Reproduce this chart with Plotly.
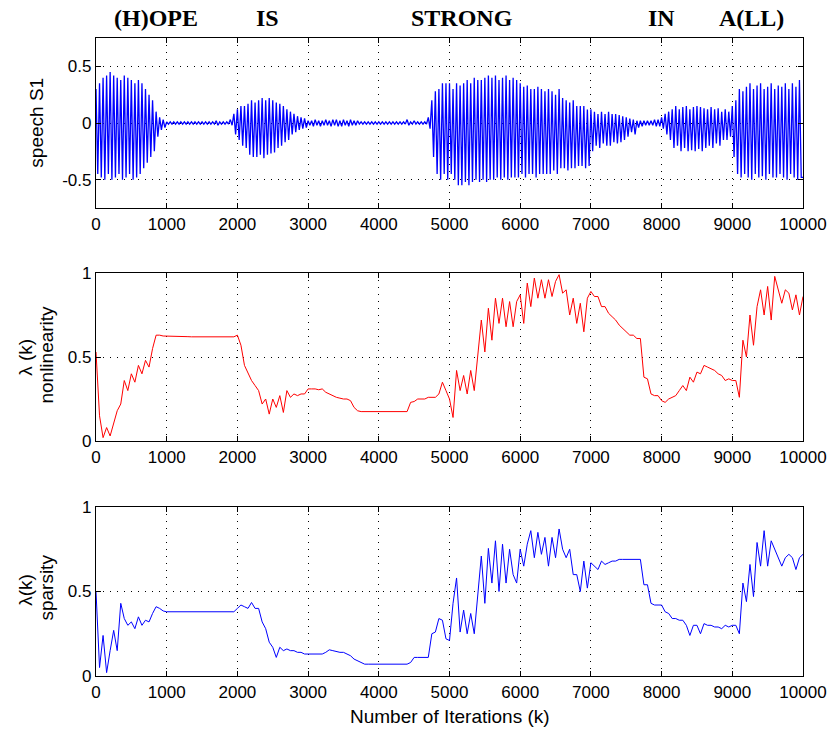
import plotly.graph_objects as go

# ---------------- data ----------------
# speech S1: upper / lower envelope peaks read every 50 iterations (0..9950)
speech_hi = [
    0.30, 0.35, 0.40, 0.42, 0.45, 0.42, 0.40, 0.38, 0.42, 0.40, 0.38, 0.35, 0.38, 0.35, 0.30, 0.25, 0.20, 0.10, 0.05, 0.03,
    0.01, 0.01, 0.01, 0.01, 0.01, 0.01, 0.01, 0.01, 0.01, 0.01, 0.01, 0.01, 0.01, 0.01, 0.02, 0.01, 0.01, 0.01, 0.03, 0.08,
    0.12, 0.15, 0.15, 0.17, 0.20, 0.18, 0.20, 0.22, 0.20, 0.22, 0.20, 0.18, 0.17, 0.15, 0.12, 0.10, 0.08, 0.06, 0.05, 0.04,
    0.02, 0.02, 0.03, 0.02, 0.02, 0.03, 0.02, 0.03, 0.03, 0.02, 0.03, 0.02, 0.03, 0.02, 0.02, 0.01, 0.01, 0.01, 0.01, 0.01,
    0.01, 0.01, 0.01, 0.01, 0.01, 0.01, 0.01, 0.01, 0.03, 0.01, 0.02, 0.01, 0.01, 0.01, 0.05, 0.20, 0.28, 0.30, 0.35, 0.35,
    0.35, 0.30, 0.35, 0.33, 0.35, 0.38, 0.35, 0.40, 0.38, 0.38, 0.40, 0.42, 0.40, 0.42, 0.38, 0.40, 0.42, 0.38, 0.40, 0.38,
    0.35, 0.32, 0.33, 0.30, 0.30, 0.32, 0.30, 0.28, 0.30, 0.28, 0.25, 0.30, 0.22, 0.20, 0.18, 0.20, 0.15, 0.15, 0.15, 0.12,
    0.12, 0.10, 0.08, 0.10, 0.08, 0.10, 0.08, 0.08, 0.07, 0.06, 0.05, 0.04, 0.03, 0.02, 0.02, 0.02, 0.02, 0.02, 0.03, 0.03,
    0.05, 0.08, 0.10, 0.12, 0.15, 0.12, 0.14, 0.15, 0.12, 0.14, 0.15, 0.14, 0.13, 0.12, 0.14, 0.12, 0.13, 0.10, 0.12, 0.10,
    0.15, 0.20, 0.30, 0.28, 0.32, 0.35, 0.30, 0.33, 0.35, 0.30, 0.32, 0.35, 0.30, 0.33, 0.32, 0.35, 0.30, 0.35, 0.32, 0.38,
]
speech_lo = [
    -0.45, -0.48, -0.50, -0.45, -0.50, -0.48, -0.45, -0.50, -0.48, -0.45, -0.50, -0.48, -0.45, -0.40, -0.35, -0.30, -0.25, -0.12, -0.06, -0.04,
    -0.01, -0.01, -0.01, -0.01, -0.01, -0.01, -0.01, -0.01, -0.01, -0.01, -0.01, -0.01, -0.01, -0.01, -0.02, -0.01, -0.01, -0.01, -0.02, -0.10,
    -0.15, -0.20, -0.22, -0.28, -0.30, -0.30, -0.28, -0.31, -0.28, -0.27, -0.26, -0.22, -0.20, -0.17, -0.15, -0.10, -0.08, -0.06, -0.05, -0.04,
    -0.02, -0.03, -0.02, -0.03, -0.02, -0.02, -0.03, -0.02, -0.03, -0.03, -0.02, -0.03, -0.02, -0.02, -0.01, -0.01, -0.01, -0.01, -0.01, -0.01,
    -0.01, -0.01, -0.01, -0.01, -0.01, -0.01, -0.01, -0.01, -0.02, -0.01, -0.01, -0.01, -0.01, -0.01, -0.05, -0.30, -0.45, -0.50, -0.45, -0.50,
    -0.45, -0.50, -0.55, -0.55, -0.52, -0.55, -0.52, -0.50, -0.52, -0.50, -0.52, -0.50, -0.50, -0.48, -0.50, -0.48, -0.50, -0.48, -0.48, -0.48,
    -0.45, -0.48, -0.45, -0.45, -0.48, -0.45, -0.45, -0.45, -0.45, -0.42, -0.45, -0.40, -0.40, -0.42, -0.40, -0.40, -0.38, -0.38, -0.40, -0.38,
    -0.25, -0.20, -0.22, -0.18, -0.20, -0.20, -0.17, -0.18, -0.17, -0.15, -0.12, -0.08, -0.10, -0.04, -0.03, -0.02, -0.02, -0.02, -0.03, -0.03,
    -0.05, -0.10, -0.15, -0.22, -0.20, -0.25, -0.22, -0.25, -0.24, -0.25, -0.23, -0.25, -0.22, -0.20, -0.22, -0.18, -0.20, -0.15, -0.15, -0.12,
    -0.30, -0.45, -0.48, -0.45, -0.48, -0.50, -0.45, -0.48, -0.47, -0.50, -0.45, -0.48, -0.48, -0.45, -0.48, -0.50, -0.45, -0.48, -0.50, -0.48,
]

# lambda(k) nonlinearity, read every 50 iterations (0..10000)
lam_nonlin = [
    0.53, 0.15, 0.02, 0.08, 0.03, 0.10, 0.18, 0.22, 0.36, 0.30, 0.40, 0.35, 0.45, 0.40, 0.48, 0.44, 0.55, 0.63, 0.63, 0.625,
    0.625, 0.624, 0.623, 0.622, 0.622, 0.621, 0.621, 0.620, 0.620, 0.620, 0.620, 0.620, 0.620, 0.620, 0.620, 0.620, 0.620, 0.620, 0.620, 0.620,
    0.63, 0.57, 0.45, 0.40, 0.36, 0.33, 0.30, 0.22, 0.25, 0.16, 0.25, 0.20, 0.27, 0.17, 0.30, 0.26, 0.28, 0.27, 0.28, 0.28,
    0.31, 0.31, 0.31, 0.305, 0.31, 0.29, 0.28, 0.27, 0.26, 0.255, 0.25, 0.25, 0.24, 0.20, 0.18, 0.175, 0.175, 0.175, 0.175, 0.175,
    0.175, 0.175, 0.175, 0.175, 0.175, 0.175, 0.175, 0.175, 0.175, 0.23, 0.235, 0.25, 0.25, 0.25, 0.26, 0.26, 0.26, 0.28, 0.35, 0.30,
    0.25, 0.14, 0.42, 0.30, 0.39, 0.28, 0.42, 0.30, 0.53, 0.72, 0.53, 0.79, 0.60, 0.85, 0.70, 0.85, 0.68, 0.83, 0.68, 0.83,
    0.87, 0.70, 0.94, 0.80, 0.97, 0.85, 0.96, 0.85, 0.96, 0.86, 0.95, 0.99, 0.88, 0.90, 0.75, 0.85, 0.70, 0.82, 0.65, 0.85,
    0.89, 0.86, 0.86, 0.80, 0.80, 0.76, 0.74, 0.72, 0.69, 0.67, 0.65, 0.63, 0.63, 0.61, 0.61, 0.38, 0.37, 0.28, 0.27, 0.27,
    0.24, 0.23, 0.25, 0.26, 0.27, 0.30, 0.33, 0.30, 0.38, 0.35, 0.41, 0.40, 0.45, 0.44, 0.43, 0.42, 0.40, 0.39, 0.36, 0.37,
    0.36, 0.36, 0.26, 0.60, 0.50, 0.75, 0.57, 0.80, 0.90, 0.75, 0.92, 0.72, 0.98, 0.90, 0.82, 0.90, 0.88, 0.78, 0.87, 0.75,
    0.86,
]

# lambda(k) sparsity, read every 50 iterations (0..10000)
lam_sparse = [
    0.50, 0.05, 0.24, 0.02, 0.15, 0.27, 0.15, 0.43, 0.34, 0.30, 0.32, 0.28, 0.35, 0.30, 0.33, 0.32, 0.37, 0.41, 0.40, 0.385,
    0.38, 0.38, 0.38, 0.38, 0.38, 0.38, 0.38, 0.38, 0.38, 0.38, 0.38, 0.38, 0.38, 0.38, 0.38, 0.38, 0.38, 0.38, 0.38, 0.38,
    0.40, 0.42, 0.41, 0.40, 0.435, 0.40, 0.40, 0.32, 0.28, 0.20, 0.17, 0.11, 0.17, 0.15, 0.16, 0.15, 0.15, 0.14, 0.14, 0.13,
    0.13, 0.13, 0.13, 0.13, 0.13, 0.14, 0.155, 0.15, 0.145, 0.14, 0.14, 0.13, 0.12, 0.10, 0.09, 0.08, 0.07, 0.07, 0.07, 0.07,
    0.07, 0.07, 0.07, 0.07, 0.07, 0.07, 0.07, 0.07, 0.07, 0.08, 0.11, 0.11, 0.11, 0.11, 0.11, 0.25, 0.26, 0.34, 0.33, 0.22,
    0.21, 0.43, 0.58, 0.26, 0.39, 0.25, 0.37, 0.25, 0.50, 0.71, 0.43, 0.755, 0.55, 0.80, 0.50, 0.78, 0.55, 0.75, 0.60, 0.55,
    0.75, 0.65, 0.78, 0.86, 0.70, 0.85, 0.72, 0.82, 0.65, 0.82, 0.70, 0.87, 0.75, 0.70, 0.75, 0.60, 0.60, 0.50, 0.68, 0.52,
    0.67, 0.65, 0.63, 0.68, 0.66, 0.67, 0.68, 0.68, 0.69, 0.69, 0.69, 0.69, 0.69, 0.69, 0.69, 0.54, 0.54, 0.43, 0.42, 0.42,
    0.42, 0.38, 0.37, 0.34, 0.34, 0.33, 0.33, 0.30, 0.24, 0.30, 0.30, 0.25, 0.31, 0.30, 0.30, 0.29, 0.29, 0.28, 0.30, 0.29,
    0.30, 0.30, 0.25, 0.55, 0.44, 0.66, 0.47, 0.79, 0.65, 0.86, 0.65, 0.80, 0.75, 0.70, 0.65, 0.70, 0.72, 0.70, 0.63, 0.70,
    0.72,
]

step = 50
word_labels = ["(H)OPE", "IS", "STRONG", "IN", "A(LL)"]
word_pos = [848, 2429, 5177, 7993, 9273]
x_ticks = [0, 1000, 2000, 3000, 4000, 5000, 6000, 7000, 8000, 9000, 10000]

# ---------------- build traces ----------------
sx, sy = [], []
for i, (h, l) in enumerate(zip(speech_hi, speech_lo)):
    sx += [i * step, i * step + step / 2]
    sy += [h, l]
sx.append(len(speech_hi) * step)
sy.append(speech_lo[-1])

lx = [i * step for i in range(len(lam_nonlin))]

fig = go.Figure()
fig.add_trace(go.Scatter(x=sx, y=sy, mode="lines", line=dict(color="#0000ff", width=1.3),
                         xaxis="x", yaxis="y", showlegend=False))
fig.add_trace(go.Scatter(x=lx, y=lam_nonlin, mode="lines", line=dict(color="#ff0000", width=1),
                         xaxis="x2", yaxis="y2", showlegend=False))
fig.add_trace(go.Scatter(x=lx, y=lam_sparse, mode="lines", line=dict(color="#0000ff", width=1),
                         xaxis="x3", yaxis="y3", showlegend=False))

FONT = "Liberation Sans, Arial, sans-serif"
grid = dict(showgrid=True, gridcolor="#000000", gridwidth=1, griddash="1px,6px",
            zeroline=False, showline=True, linecolor="black", linewidth=1.2,
            mirror="allticks", ticks="inside", ticklen=5, tickcolor="black",
            tickfont=dict(family=FONT, size=17, color="black"))

def xax(anchor):
    return dict(grid, domain=[0, 1], range=[0, 10000], anchor=anchor,
                tickvals=x_ticks, ticktext=[str(v) for v in x_ticks])

H = 638.0
def dom(top, bot):
    return [1 - (bot - 38) / H, 1 - (top - 38) / H]

fig.update_layout(
    width=839, height=729,
    margin=dict(l=96, r=28, t=38, b=53),
    paper_bgcolor="white", plot_bgcolor="white",
    xaxis=xax("y"), xaxis2=xax("y2"), xaxis3=xax("y3"),
    yaxis=dict(grid, domain=dom(38, 208), range=[-0.75, 0.75], anchor="x",
               tickvals=[-0.5, 0, 0.5], ticktext=["-0.5", "0", "0.5"]),
    yaxis2=dict(grid, domain=dom(273, 441), range=[0, 1], anchor="x2",
                tickvals=[0, 0.5, 1], ticktext=["0", "0.5", "1"]),
    yaxis3=dict(grid, domain=dom(507, 676), range=[0, 1], anchor="x3",
                tickvals=[0, 0.5, 1], ticktext=["0", "0.5", "1"]),
)

def px2paper_x(px):
    return (px - 96) / 715.0

def py2paper_y(py):
    return 1 - (py - 38) / H

ann = []
for w, p in zip(word_labels, word_pos):
    ann.append(dict(x=p, y=py2paper_y(18), xref="x", yref="paper", text="<b>%s</b>" % w,
                    showarrow=False, xanchor="center", yanchor="middle",
                    font=dict(family="Liberation Serif, Times New Roman, serif", size=24, color="black")))

side = [("speech S1", 36, 123), ("λ (k)", 24, 357), ("nonlinearity", 45, 355),
        ("λ(k)", 24, 590), ("sparsity", 45, 588)]
for t, px, py in side:
    ann.append(dict(x=px2paper_x(px), y=py2paper_y(py), xref="paper", yref="paper", text=t,
                    showarrow=False, textangle=-90, xanchor="center", yanchor="middle",
                    font=dict(family=FONT, size=19, color="black")))

ann.append(dict(x=0.5, y=py2paper_y(716), xref="paper", yref="paper", text="Number of Iterations (k)",
                showarrow=False, xanchor="center", yanchor="middle",
                font=dict(family=FONT, size=19, color="black")))
fig.update_layout(annotations=ann)

fig.write_html("out.html")
